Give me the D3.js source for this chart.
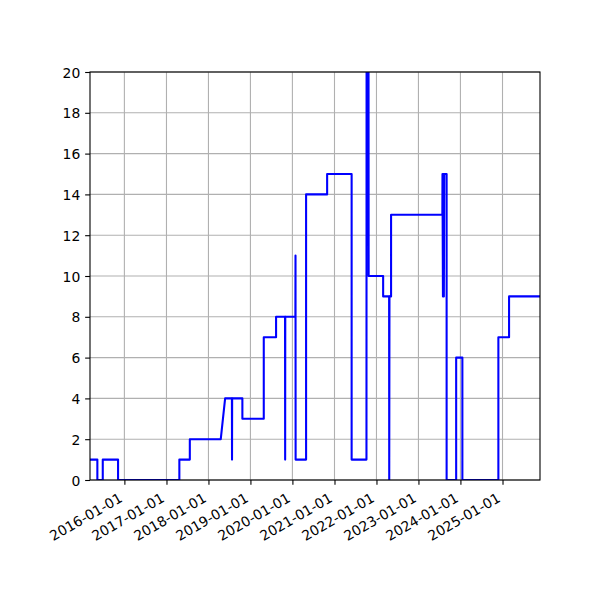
<!DOCTYPE html>
<html>
<head>
<meta charset="utf-8">
<script src="https://cdn.jsdelivr.net/npm/d3@7"></script>
<style>
  body { margin: 0; background: #fff; }
  svg { display: block; }
  text { font-family: "DejaVu Sans", sans-serif; }
</style>
</head>
<body>
<svg id="chart" width="600" height="600"></svg>
<script>
// Data
const dates = [
  "2015-03-08","2015-05-11","2015-05-11","2015-06-27","2015-06-27","2015-11-07","2015-11-07",
  "2017-04-23","2017-04-23","2017-07-23","2017-07-23","2018-04-18","2018-05-26","2018-07-24",
  "2018-07-25","2018-07-26","2018-10-23","2018-10-23","2019-04-27","2019-04-27","2019-08-12",
  "2019-08-12","2019-10-29","2019-10-30","2019-10-31","2020-01-27","2020-01-28","2020-01-29",
  "2020-04-29","2020-04-29","2020-10-29","2020-10-29","2021-05-30","2021-05-30","2021-10-06",
  "2021-10-07","2021-10-24","2021-10-25","2022-02-28","2022-02-28","2022-04-21","2022-04-22",
  "2022-04-24","2022-05-08","2022-05-08","2023-07-28","2023-07-29","2023-08-02","2023-08-06",
  "2023-08-10","2023-08-13","2023-09-03","2023-09-03","2023-11-25","2023-11-25","2024-01-18",
  "2024-01-18","2024-11-26","2024-11-26","2025-02-27","2025-02-27","2025-11-23"
];
const values = [
  1,1,0,0,1,1,0,
  0,1,1,2,2,4,4,
  1,4,4,3,3,7,7,
  8,8,1,8,8,11,1,
  1,14,14,15,15,1,1,
  20,20,10,10,9,9,0,
  9,9,13,13,15,9,15,
  9,15,15,0,0,6,6,
  0,0,7,7,9,9
];
const xTickLabels = ["2016-01-01","2017-01-01","2018-01-01","2019-01-01","2020-01-01",
                     "2021-01-01","2022-01-01","2023-01-01","2024-01-01","2025-01-01"];
const yTickValues = [0,2,4,6,8,10,12,14,16,18,20];
const yDomain = [0, 20];

const parse = d3.utcParse("%Y-%m-%d");
const points = dates.map((d, i) => ({ date: parse(d), value: values[i] }));

const margin = { left: 90, right: 540, top: 72, bottom: 480 };
const svg = d3.select("#chart");

const x = d3.scaleUtc()
  .domain(d3.extent(points, d => d.date))
  .range([margin.left, margin.right]);
const y = d3.scaleLinear().domain(yDomain).range([margin.bottom, margin.top]);

const xTicks = xTickLabels.map(parse);
const fontSize = 13.9;
const tickLen = 4.86;
const pad = 4.86;
const thin = 1.1;

// grid
const grid = svg.append("g");
grid.selectAll(".gx").data(xTicks).join("line")
  .attr("x1", d => x(d)).attr("x2", d => x(d))
  .attr("y1", margin.top).attr("y2", margin.bottom)
  .attr("stroke", "#b0b0b0").attr("stroke-width", thin);
grid.selectAll(".gy").data(yTickValues).join("line")
  .attr("x1", margin.left).attr("x2", margin.right)
  .attr("y1", d => y(d)).attr("y2", d => y(d))
  .attr("stroke", "#b0b0b0").attr("stroke-width", thin);

// clip
svg.append("clipPath").attr("id", "clip").append("rect")
  .attr("x", margin.left).attr("y", margin.top)
  .attr("width", margin.right - margin.left).attr("height", margin.bottom - margin.top);

const line = d3.line().x(d => x(d.date)).y(d => y(d.value));
svg.append("path").datum(points)
  .attr("clip-path", "url(#clip)")
  .attr("d", line)
  .attr("fill", "none")
  .attr("stroke", "#0000ff")
  .attr("stroke-width", 2.08)
  .attr("stroke-linejoin", "round")
  .attr("stroke-linecap", "butt");

// axes using d3 axis generators
const xAxis = d3.axisBottom(x).tickValues(xTicks).tickSize(tickLen).tickPadding(pad)
  .tickFormat(d3.utcFormat("%Y-%m-%d"));
const gx = svg.append("g").attr("transform", `translate(0,${margin.bottom})`).call(xAxis);
gx.select(".domain").remove();
gx.selectAll(".tick line").attr("stroke", "#000").attr("stroke-width", thin);
const h = fontSize * 1.16;
gx.selectAll(".tick text")
  .attr("font-size", fontSize)
  .attr("font-family", "DejaVu Sans")
  .attr("fill", "#000")
  .attr("text-anchor", "end")
  .attr("x", 0).attr("y", 0).attr("dy", null)
  .attr("transform", `translate(${-h / 2},${tickLen + pad}) rotate(-30) translate(0,${fontSize * 0.93})`);

const yAxis = d3.axisLeft(y).tickValues(yTickValues).tickSize(tickLen).tickPadding(pad)
  .tickFormat(d3.format("d"));
const gy = svg.append("g").attr("transform", `translate(${margin.left},0)`).call(yAxis);
gy.select(".domain").remove();
gy.selectAll(".tick line").attr("stroke", "#000").attr("stroke-width", thin);
gy.selectAll(".tick text")
  .attr("font-size", fontSize)
  .attr("font-family", "DejaVu Sans")
  .attr("fill", "#000")
  .attr("dy", "0.36em");

// spines
svg.append("rect")
  .attr("x", margin.left).attr("y", margin.top)
  .attr("width", margin.right - margin.left).attr("height", margin.bottom - margin.top)
  .attr("fill", "none").attr("stroke", "#000").attr("stroke-width", thin);
</script>
</body>
</html>
